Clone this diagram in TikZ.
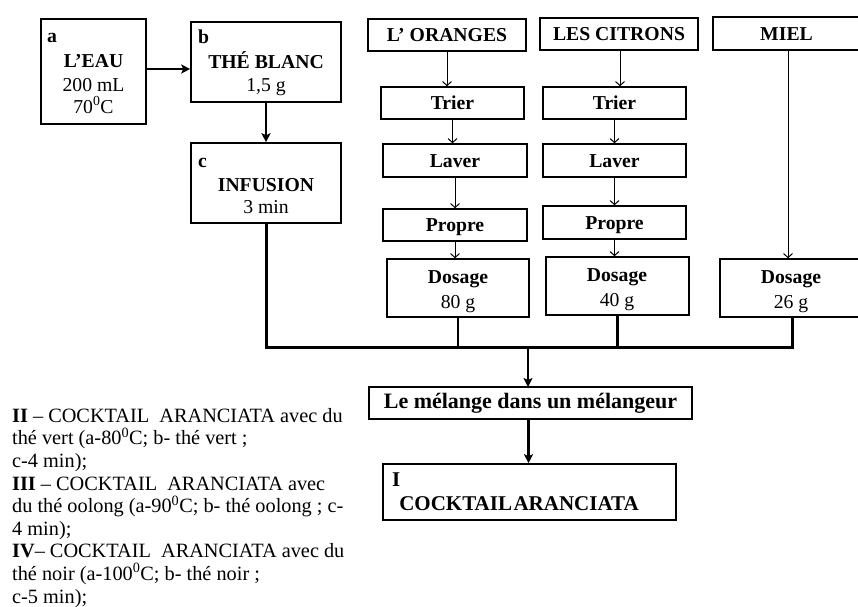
\documentclass[tikz,border=0pt]{standalone}
\usepackage{fontspec}
\setmainfont{Liberation Serif}
\usetikzlibrary{arrows.meta,calc}
\begin{document}
\begin{tikzpicture}[x=1pt,y=-1pt,
  box/.style={draw, line width=1.6pt, inner sep=0pt},
  onebox/.style={box, text height=15pt, text depth=2pt, font=\fontsize{19.7}{23}\selectfont\bfseries},
  tb/.style={anchor=base, inner sep=0pt, font=\fontsize{19.7}{23}\selectfont\bfseries},
  tr/.style={anchor=base, inner sep=0pt, font=\fontsize{19.7}{23}\selectfont},
  thk/.style={line width=2.6pt, -{Stealth[length=9pt,width=9pt,inset=2pt]}},
  thn/.style={line width=1pt, -{Straight Barb[length=4pt,width=9pt]}},
  merge/.style={line width=3pt, line join=miter},
  mid/.style={line width=2.2pt}
]
\useasboundingbox (0,0) rectangle (858,606);
\clip (0,0) rectangle (858,606);
\fill[white] (0,0) rectangle (858,606);

% left tea column
\node[box, minimum width=105, minimum height=105] (a) at (93.5,71.5) {};
\node[tb, anchor=base west] (alab) at (47,42) {a};
\node[tb] (a1) at (93.5,67) {L’EAU};
\node[tr] (a2) at (93.5,91) {200 mL};
\node[tr] (a3) at (93.5,113) {70\textsuperscript{0}C};

\node[box, minimum width=150, minimum height=80] (b) at (266,62) {};
\node[tb, anchor=base west] (blab) at (198,43) {b};
\node[tb] (b1) at (266,68) {THÉ BLANC};
\node[tr] (b2) at (266,91) {1,5 g};

\node[box, minimum width=150, minimum height=80] (c) at (266,183) {};
\node[tb, anchor=base west] (clab) at (198,167) {c};
\node[tb] (c1) at (266,191) {INFUSION};
\node[tr] (c2) at (266,213) {3 min};

% fruit columns
\node[onebox, minimum width=158, minimum height=32] (oranges) at (447,35) {L’ ORANGES};
\node[onebox, minimum width=158, minimum height=32] (citrons) at (619,34) {LES CITRONS};
\node[onebox, minimum width=147, minimum height=33] (miel) at (786.5,33.5) {MIEL};

\node[onebox, minimum width=143, minimum height=32] (trierO) at (452.5,103) {Trier};
\node[onebox, minimum width=143, minimum height=32] (trierC) at (614.5,103) {Trier};
\node[onebox, minimum width=144, minimum height=33] (laverO) at (455,160.5) {Laver};
\node[onebox, minimum width=143, minimum height=33] (laverC) at (614.5,160.5) {Laver};
\node[onebox, minimum width=144, minimum height=32] (propreO) at (455,225) {Propre};
\node[onebox, minimum width=143, minimum height=33] (propreC) at (614.5,222.5) {Propre};

\node[box, minimum width=142, minimum height=58] (dosO) at (458,288) {};
\node[tb] (dosO1) at (458,283) {Dosage};
\node[tr] (dosO2) at (458,308) {80 g};
\node[box, minimum width=143, minimum height=58] (dosC) at (617.5,286) {};
\node[tb] (dosC1) at (617,281) {Dosage};
\node[tr] (dosC2) at (617,306) {40 g};
\node[box, minimum width=145, minimum height=58] (dosM) at (792.5,288) {};
\node[tb] (dosM1) at (791,283) {Dosage};
\node[tr] (dosM2) at (791,308) {26 g};

% mixing and result
\node[box, minimum width=323, minimum height=32, text height=15pt, text depth=4pt,
      font=\fontsize{22}{26}\selectfont\bfseries] (melange) at (530.5,403) {Le mélange dans un mélangeur};
\node[box, minimum width=293, minimum height=56] (final) at (529.5,492) {};
\node[tb, anchor=base west, font=\fontsize{21}{25}\selectfont\bfseries] (flab) at (392,486) {I};
\node[tb, font=\fontsize{21}{25}\selectfont\bfseries] (f1) at (519,510) {{\spaceskip=1.5pt COCKTAIL ARANCIATA}};

% notes
\node[anchor=north west, inner sep=0pt, align=left, font=\fontsize{20.3}{22.6}\selectfont] (notes) at (12,408)
{\textbf{II} – COCKTAIL\ \ ARANCIATA avec du\\
thé vert (a-80\textsuperscript{0}C; b- thé vert ;\\
c-4 min);\\
\textbf{III} – COCKTAIL\ \ ARANCIATA avec\\
du thé oolong (a-90\textsuperscript{0}C; b- thé oolong ; c-\\
4 min);\\
\textbf{IV}– COCKTAIL\ \ ARANCIATA avec du\\
thé noir (a-100\textsuperscript{0}C; b- thé noir ;\\
c-5 min);};

% connectors
\draw[thk] ([yshift=2.5pt]a.east) -- ([yshift=2.5pt]a.east -| b.west);
\draw[thk] (b.south) -- (c.north);
\coordinate (jR) at (792.5,347);
\draw[merge] (c.south) |- (jR) -- (dosM.south);
\draw[mid] (dosO.south) -- (dosO.south |- jR);
\draw[mid] (dosC.south) -- (dosC.south |- jR);
\coordinate (mtop) at (528,387);
\draw[thk] (mtop |- jR) -- (mtop);
\draw[thk] ([xshift=-2pt]melange.south) -- ([xshift=-2pt]melange.south |- final.north);

\draw[thn] (oranges.south) -- (oranges.south |- trierO.north);
\draw[thn] (trierO.south) -- (trierO.south |- laverO.north);
\draw[thn] (laverO.south) -- (laverO.south |- propreO.north);
\draw[thn] (propreO.south) -- (propreO.south |- dosO.north);
\draw[thn] ([xshift=1pt]citrons.south) -- ([xshift=1pt]citrons.south |- trierC.north);
\draw[thn] (trierC.south) -- (trierC.south |- laverC.north);
\draw[thn] (laverC.south) -- (laverC.south |- propreC.north);
\draw[thn] (propreC.south) -- (propreC.south |- dosC.north);
\draw[thn] ([xshift=1.5pt]miel.south) -- ([xshift=1.5pt]miel.south |- dosM.north);
\end{tikzpicture}
\end{document}
